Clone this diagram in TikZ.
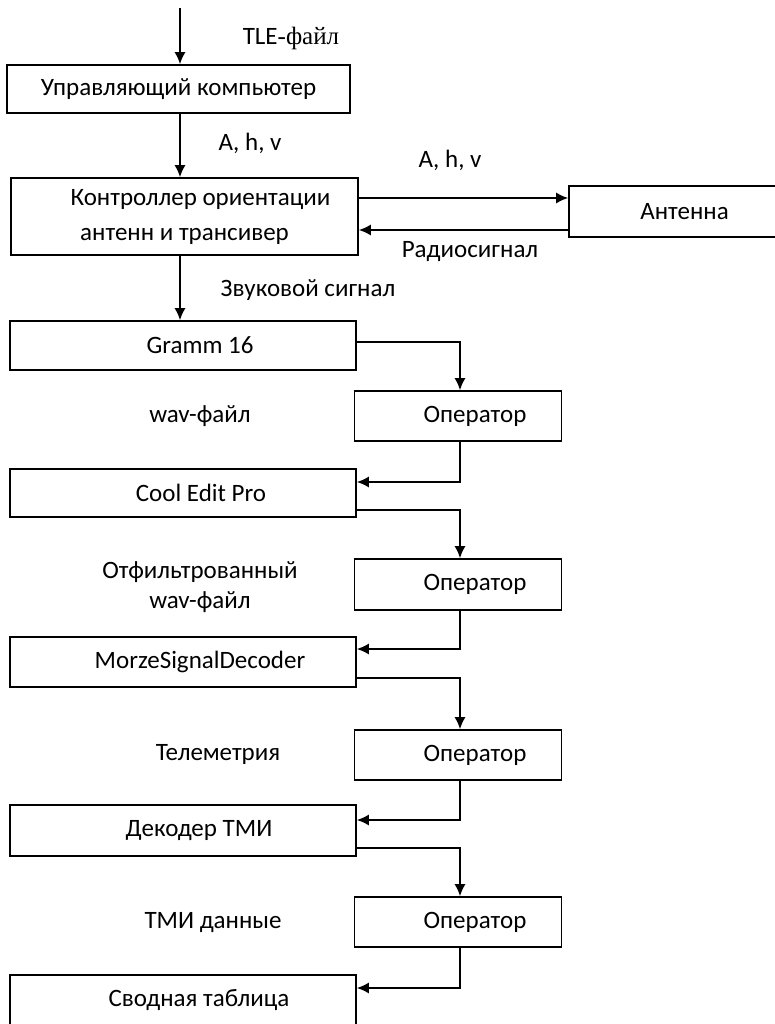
\documentclass[tikz,border=0pt]{standalone}
\usepackage{fontspec}
\setmainfont{Carlito}
\newfontfamily\seriffont{Liberation Serif}
\usetikzlibrary{arrows.meta}
\begin{document}
\begin{tikzpicture}[x=1pt,y=-1pt,
  font=\fontsize{25}{35}\selectfont,
  line width=1.6pt,
  box/.style={draw, inner sep=0pt, align=center},
  arr/.style={-{Latex[length=12pt,width=11pt]}},
  lbl/.style={inner sep=0pt, align=center}]
\useasboundingbox (0,0) rectangle (774,1024);

% boxes
\node[box, minimum width=343, minimum height=48] (uk) at (178.5,89) {Управляющий компьютер};
\node[box, minimum width=347, minimum height=77] (kt) at (184.5,216.5) {\hspace*{32pt}Контроллер ориентации\\антенн и трансивер};
\node[box, minimum width=231, minimum height=51] (ant) at (684.5,211.5) {Антенна};
\node[box, minimum width=346, minimum height=49] (gramm) at (183,345.5) {\hspace*{34pt}Gramm 16};
\node[box, minimum width=207, minimum height=50] (op1) at (458,416) {\hspace*{34pt}Оператор};
\node[box, minimum width=346, minimum height=48] (cool) at (183,493) {\hspace*{36pt}Cool Edit Pro};
\node[box, minimum width=207, minimum height=51] (op2) at (458,584.5) {\hspace*{34pt}Оператор};
\node[box, minimum width=346, minimum height=50] (msd) at (183,662) {\hspace*{34pt}MorzeSignalDecoder};
\node[box, minimum width=207, minimum height=50] (op3) at (458,755) {\hspace*{34pt}Оператор};
\node[box, minimum width=346, minimum height=51] (dec) at (183,830.5) {\hspace*{32pt}Декодер ТМИ};
\node[box, minimum width=207, minimum height=50] (op4) at (458,922) {\hspace*{34pt}Оператор};
\node[box, minimum width=346, minimum height=50] (svod) at (183,1000) {\hspace*{32pt}Сводная таблица};

% free labels
\node[lbl] (tle) at (291,38) {TLE{\seriffont -файл}};
\node[lbl] (ahv1) at (250,143) {A, h, v};
\node[lbl] (ahv2) at (450,160) {A, h, v};
\node[lbl] (radio) at (470,252) {Радиосигнал};
\node[lbl] (zvuk) at (308,290) {Звуковой сигнал};
\node[lbl] (wav) at (200,416) {wav-файл};
\node[lbl, font=\fontsize{25}{30}\selectfont] (filt) at (200,587) {Отфильтрованный\\wav-файл};
\node[lbl] (tel) at (218,754) {Телеметрия};
\node[lbl] (tmi) at (213,923) {ТМИ данные};

% connectors
\coordinate (start) at (180,8);
\draw[arr] (start) -- (start |- uk.north);
\draw[arr] (uk.south -| start) -- (start |- kt.north);
\draw[arr] ([yshift=18.5pt]kt.east) -- ([yshift=18.5pt]kt.east -| ant.west);
\draw[arr] ([yshift=-18.5pt]ant.west) -- ([yshift=-18.5pt]ant.west -| kt.east);
\draw[arr] (kt.south -| start) -- (start |- gramm.north);
\draw[arr] ([yshift=3.5pt]gramm.east) -| ([xshift=2pt]op1.north);
\draw[arr] ([xshift=2pt]op1.south) |- ([yshift=11pt]cool.east);
\draw[arr] ([yshift=-17pt]cool.east) -| ([xshift=2pt]op2.north);
\draw[arr] ([xshift=2pt]op2.south) |- ([yshift=13pt]msd.east);
\draw[arr] ([yshift=-16pt]msd.east) -| ([xshift=2pt]op3.north);
\draw[arr] ([xshift=2pt]op3.south) |- ([yshift=10.5pt]dec.east);
\draw[arr] ([yshift=-17.5pt]dec.east) -| ([xshift=2pt]op4.north);
\draw[arr] ([xshift=2pt]op4.south) |- ([yshift=12pt]svod.east);
\end{tikzpicture}
\end{document}
